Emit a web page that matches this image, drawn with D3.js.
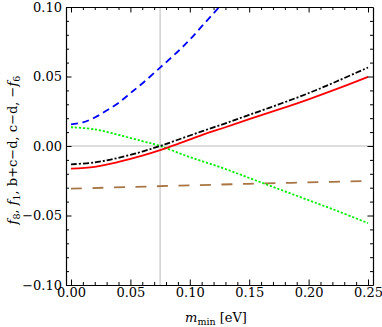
<!DOCTYPE html>
<html>
<head>
<meta charset="utf-8">
<script src="https://cdn.jsdelivr.net/npm/d3@7"></script>
<style>
  body { margin: 0; background: #fff; }
  svg { display: block; }
</style>
</head>
<body>
<svg id="chart" width="382" height="327"></svg>
<script>
// values: [m_min, value]
const blueF8 = [[0, 0.0155], [0.01, 0.017], [0.02, 0.0205], [0.03, 0.0255], [0.04, 0.031], [0.05, 0.038],
  [0.06, 0.045], [0.075, 0.0564], [0.09, 0.068], [0.1, 0.0765], [0.11, 0.086], [0.12, 0.0955], [0.13, 0.105]]
const greenF1 = [[0, 0.0135], [0.02, 0.012], [0.04, 0.008], [0.06, 0.0035], [0.075, 0.0], [0.1, -0.008],
  [0.125, -0.015], [0.15, -0.023], [0.175, -0.031], [0.2, -0.039], [0.225, -0.047], [0.25, -0.0555]]
const redBCD = [[0, -0.0163], [0.02, -0.015], [0.04, -0.0115], [0.06, -0.007], [0.075, -0.003], [0.09, 0.0015],
  [0.11, 0.0078], [0.13, 0.0135], [0.15, 0.0193], [0.175, 0.0263], [0.2, 0.0336], [0.225, 0.0414], [0.25, 0.0497]]
const blackCD = [[0, -0.0132], [0.02, -0.0118], [0.04, -0.0085], [0.06, -0.004], [0.075, 0.0], [0.09, 0.0045],
  [0.11, 0.0105], [0.13, 0.0163], [0.15, 0.0224], [0.175, 0.030], [0.2, 0.038], [0.225, 0.047], [0.25, 0.0565]]
const brownF6 = [[0, -0.0307], [0.05, -0.0295], [0.1, -0.0283], [0.15, -0.0272], [0.2, -0.0262], [0.25, -0.0252]]

const xTicks = [0, 0.05, 0.1, 0.15, 0.2, 0.25]
const yTicks = [-0.1, -0.05, 0, 0.05, 0.1]
const gridX = 0.075

const svg = d3.select('#chart')
const fLeft = 66, fRight = 373, fTop = 7, fBottom = 285
const serif = '"DejaVu Serif", "Liberation Serif", serif'

const x = d3.scaleLinear().domain([-0.0042, 0.2542]).range([fLeft, fRight])
const y = d3.scaleLinear().domain([-0.1, 0.1]).range([fBottom, fTop])

// grid lines
svg.append('line')
  .attr('x1', x(gridX)).attr('x2', x(gridX)).attr('y1', fTop).attr('y2', fBottom)
  .attr('stroke', '#bbb').attr('stroke-width', 1)
svg.append('line')
  .attr('x1', fLeft).attr('x2', fRight).attr('y1', y(0)).attr('y2', y(0))
  .attr('stroke', '#bbb').attr('stroke-width', 1)

// curves, clipped to the frame
svg.append('defs').append('clipPath').attr('id', 'clip')
  .append('rect').attr('x', fLeft).attr('y', fTop).attr('width', fRight - fLeft).attr('height', fBottom - fTop)

const line = d3.line().curve(d3.curveCatmullRom)
  .x(d => x(d[0])).y(d => y(d[1]))

const series = [
  { data: brownF6, color: '#a87644', dash: '11,10.5' },
  { data: greenF1, color: '#00f000', dash: '2.2,1.8' },
  { data: redBCD, color: '#ff0000', dash: null },
  { data: blackCD, color: '#000', dash: '6,2,2,2' },
  { data: blueF8, color: '#0000ff', dash: '7,4.5' }
]

const g = svg.append('g').attr('clip-path', 'url(#clip)')
g.selectAll('path').data(series).join('path')
  .attr('d', d => line(d.data))
  .attr('fill', 'none')
  .attr('stroke', d => d.color)
  .attr('stroke-width', 1.8)
  .attr('stroke-dasharray', d => d.dash)

// frame with inward ticks
function minorTicks (lo, hi, step) {
  return d3.range(Math.round(lo / step), Math.round(hi / step) + 1).map(i => i * step)
}
const xMinor = minorTicks(0, 0.25, 0.01)
const yMinor = minorTicks(-0.1, 0.1, 0.01)
const isMajor = (v, step) => Math.abs(v / step - Math.round(v / step)) < 1e-6

svg.append('g').attr('transform', `translate(0,${fBottom})`)
  .call(d3.axisBottom(x).tickValues(xMinor).tickSizeInner(-3).tickSizeOuter(0).tickFormat(''))
  .call(a => a.selectAll('.tick line').filter(d => isMajor(d, 0.05)).attr('y2', -5.5))
svg.append('g').attr('transform', `translate(0,${fBottom})`)
  .call(d3.axisBottom(x).tickValues(xTicks).tickSize(0).tickPadding(3).tickFormat(d3.format('.2f')))
  .call(a => a.select('.domain').remove())
svg.append('g').attr('transform', `translate(0,${fTop})`)
  .call(d3.axisTop(x).tickValues(xMinor).tickSizeInner(-3).tickSizeOuter(0).tickFormat(''))
  .call(a => a.selectAll('.tick line').filter(d => isMajor(d, 0.05)).attr('y2', 5.5))

svg.append('g').attr('transform', `translate(${fLeft},0)`)
  .call(d3.axisLeft(y).tickValues(yMinor).tickSizeInner(-3).tickSizeOuter(0).tickFormat(''))
  .call(a => a.selectAll('.tick line').filter(d => isMajor(d, 0.05)).attr('x2', 5.5))
svg.append('g').attr('transform', `translate(${fLeft},0)`)
  .call(d3.axisLeft(y).tickValues(yTicks).tickSize(0).tickPadding(4)
    .tickFormat(d => (d < 0 ? '\u2212' : '') + d3.format('.2f')(Math.abs(d))))
  .call(a => a.select('.domain').remove())
svg.append('g').attr('transform', `translate(${fRight},0)`)
  .call(d3.axisRight(y).tickValues(yMinor).tickSizeInner(-3).tickSizeOuter(0).tickFormat(''))
  .call(a => a.selectAll('.tick line').filter(d => isMajor(d, 0.05)).attr('x2', -5.5))

svg.selectAll('.domain').attr('stroke', '#000').attr('stroke-width', 1.2)
svg.selectAll('.tick line').attr('stroke', '#000')
svg.selectAll('.tick text')
  .attr('font-family', serif).attr('font-size', 13).attr('fill', '#000')

// axis labels
const xl = svg.append('text').attr('x', 216).attr('y', 322)
  .attr('text-anchor', 'middle').attr('font-family', serif).attr('font-size', 13)
xl.append('tspan').attr('font-style', 'italic').text('m')
xl.append('tspan').attr('font-size', 9.5).attr('dy', 3).text('min')
xl.append('tspan').attr('dy', -3).text(' [eV]')

const yl = svg.append('text').attr('transform', 'translate(17,150) rotate(-90)')
  .attr('text-anchor', 'middle').attr('font-family', serif).attr('font-size', 13)
yl.append('tspan').attr('font-style', 'italic').text('f')
yl.append('tspan').attr('font-size', 9.5).attr('dy', 3).text('8')
yl.append('tspan').attr('dy', -3).text(', ')
yl.append('tspan').attr('font-style', 'italic').text('f')
yl.append('tspan').attr('font-size', 9.5).attr('dy', 3).text('1')
yl.append('tspan').attr('dy', -3).text(', b+c\u2212d, c\u2212d, \u2212')
yl.append('tspan').attr('font-style', 'italic').text('f')
yl.append('tspan').attr('font-size', 9.5).attr('dy', 3).text('6')
</script>
</body>
</html>
